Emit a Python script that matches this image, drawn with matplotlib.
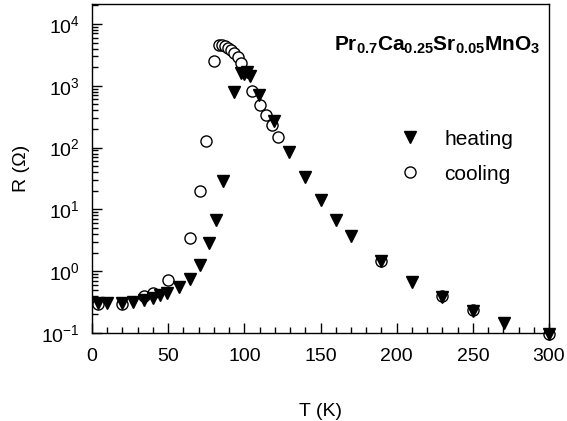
import numpy as np
import matplotlib
matplotlib.use("Agg")
import matplotlib.pyplot as plt
from matplotlib.ticker import FixedLocator, MultipleLocator, LogLocator, LogFormatterMathtext

plt.rcParams["font.family"] = ["Liberation Sans", "DejaVu Sans"]
plt.rcParams["mathtext.fontset"] = "custom"
plt.rcParams["mathtext.rm"] = "Liberation Sans"
plt.rcParams["mathtext.bf"] = "Liberation Sans:bold"
plt.rcParams["mathtext.it"] = "Liberation Sans:italic"

# ── Data ────────────────────────────────────────────────────────────────────
T_heat = [4, 10, 20, 27, 34, 40, 44.5, 49.5, 57, 64, 71, 77, 81.5, 86,
          93.5, 97.5, 99.5, 101.5, 103.5, 109.5, 119.5, 129, 139.5, 150,
          160, 170, 190, 210, 230, 250, 270.5, 300]
R_heat = [0.31, 0.31, 0.31, 0.32, 0.34, 0.37, 0.41, 0.45, 0.55, 0.74, 1.25,
          2.9, 6.8, 29, 800, 1600, 1550, 1650, 1450, 720, 270, 85, 33, 14,
          6.8, 3.7, 1.45, 0.67, 0.38, 0.23, 0.147, 0.097]

T_cool = [4, 20, 34, 40, 50, 64, 71, 75, 80, 83.5, 85.5, 87.5, 89.5, 91.5,
          93.5, 95.5, 97.5, 105, 110.5, 114.5, 118, 122, 190, 230, 250, 300]
R_cool = [0.29, 0.30, 0.39, 0.45, 0.72, 3.4, 19.7, 130, 2500, 4500, 4600,
          4400, 4150, 3800, 3400, 2900, 2300, 810, 480, 340, 235, 150, 1.45,
          0.39, 0.24, 0.097]

# ── Figure ──────────────────────────────────────────────────────────────────
fig = plt.figure(figsize=(5.67, 4.21), dpi=100)
ax = fig.add_axes([0.1623, 0.209, 0.806, 0.7815])

ax.plot(T_cool, R_cool, "o", ms=8, mfc="white", mec="black", mew=1.0,
        ls="none", label="cooling", zorder=2, clip_on=False)
ax.plot(T_heat, R_heat, "v", ms=9, color="black", ls="none",
        label="heating", zorder=3, clip_on=False)

ax.set_yscale("log")
ax.set_xlim(0, 300)
ax.set_ylim(0.1, 2.1e4)

ax.xaxis.set_major_locator(MultipleLocator(50))
ax.xaxis.set_minor_locator(MultipleLocator(10))
ax.yaxis.set_major_locator(LogLocator(base=10, numticks=100))
minor_y = [k * 10.0 ** e for e in range(-1, 5) for k in range(2, 10)]
ax.yaxis.set_minor_locator(FixedLocator(minor_y))
ax.yaxis.set_major_formatter(LogFormatterMathtext())

ax.tick_params(which="both", direction="in", top=False, right=False,
               labelsize=14, width=1, color="black")
ax.tick_params(axis="x", which="major", length=7, pad=11)
ax.tick_params(axis="y", which="major", length=7, pad=9)
ax.tick_params(which="minor", length=4)
for s in ax.spines.values():
    s.set_linewidth(1)

ax.set_xlabel("T (K)", fontsize=14, labelpad=27)
ax.set_ylabel("R (Ω)", fontsize=14, labelpad=8)

ax.text(0.98, 0.875, r"$\mathbf{Pr_{0.7}Ca_{0.25}Sr_{0.05}MnO_3}$",
        transform=ax.transAxes, ha="right", va="center", fontsize=15)

handles, labels = ax.get_legend_handles_labels()
ax.legend(handles[::-1], labels[::-1], loc="upper left",
          bbox_to_anchor=(0.62, 0.675), frameon=False, fontsize=15,
          handletextpad=0.9, labelspacing=0.77, handlelength=1.5)

fig.savefig("out.png", dpi=100)
plt.close(fig)
